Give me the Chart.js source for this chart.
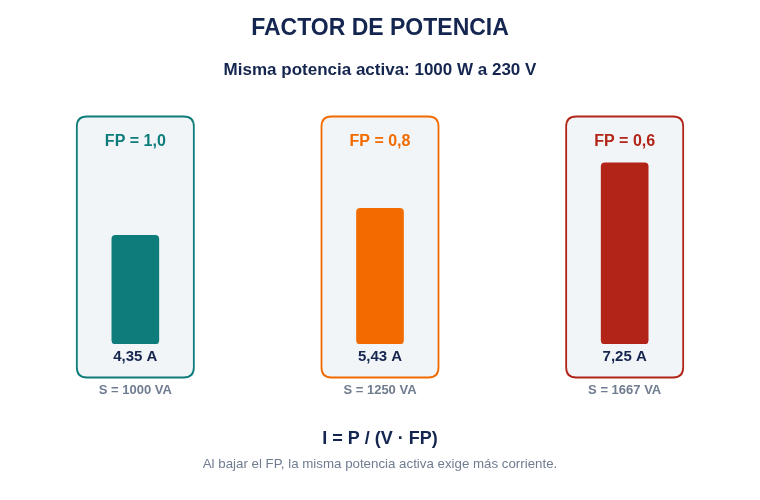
<!DOCTYPE html>
<html>
<head>
<meta charset="utf-8">
<script src="https://cdn.jsdelivr.net/npm/chart.js@4"></script>
<style>
  html,body{margin:0;padding:0;background:#fff;}
  #wrap{width:760px;height:500px;position:relative;}
</style>
</head>
<body>
<div id="wrap"><canvas id="fpChart" width="760" height="500"></canvas></div>
<script>
// datos
const fpLabels = ['FP = 1,0', 'FP = 0,8', 'FP = 0,6'];
const currents = [4.35, 5.43, 7.25];
const currentText = ['4,35 A', '5,43 A', '7,25 A'];
const apparent = ['S = 1000 VA', 'S = 1250 VA', 'S = 1667 VA'];
const colors = ['#0e7c7b', '#f26b00', '#b22418'];

const NAVY = '#14254f', GREY = '#707c90', FONT = '"Liberation Sans", Arial, sans-serif';

function rrect(ctx, x, y, w, h, r){
  ctx.beginPath();
  ctx.moveTo(x+r, y); ctx.lineTo(x+w-r, y); ctx.quadraticCurveTo(x+w, y, x+w, y+r);
  ctx.lineTo(x+w, y+h-r); ctx.quadraticCurveTo(x+w, y+h, x+w-r, y+h);
  ctx.lineTo(x+r, y+h); ctx.quadraticCurveTo(x, y+h, x, y+h-r);
  ctx.lineTo(x, y+r); ctx.quadraticCurveTo(x, y, x+r, y);
  ctx.closePath();
}

const panels = {
  id: 'panels',
  beforeDatasetsDraw(chart){
    const ctx = chart.ctx, x = chart.scales.x;
    ctx.save();
    fpLabels.forEach((lab, i) => {
      const cx = x.getPixelForValue(i);
      rrect(ctx, cx-58.5, 116.5, 117, 261, 10);
      ctx.fillStyle = '#f2f5f7'; ctx.fill();
      ctx.lineWidth = 1.8; ctx.strokeStyle = colors[i]; ctx.stroke();
      ctx.fillStyle = colors[i]; ctx.textAlign = 'center'; ctx.textBaseline = 'middle';
      ctx.font = 'bold 16px ' + FONT;
      ctx.fillText(lab, cx, 142);
    });
    ctx.restore();
  },
  afterDatasetsDraw(chart){
    const ctx = chart.ctx, x = chart.scales.x;
    ctx.save();
    ctx.textAlign = 'center'; ctx.textBaseline = 'middle';
    fpLabels.forEach((lab, i) => {
      const cx = x.getPixelForValue(i);
      ctx.fillStyle = NAVY; ctx.font = 'bold 15px ' + FONT;
      ctx.fillText(currentText[i], cx, 357);
      ctx.fillStyle = GREY; ctx.font = 'bold 13px ' + FONT;
      ctx.fillText(apparent[i], cx, 390);
    });
    ctx.fillStyle = NAVY;
    ctx.font = 'bold 23px ' + FONT; ctx.fillText('FACTOR DE POTENCIA', 380, 29);
    ctx.font = 'bold 17px ' + FONT; ctx.fillText('Misma potencia activa: 1000 W a 230 V', 380, 70);
    ctx.font = 'bold 18px ' + FONT; ctx.fillText('I = P / (V · FP)', 380, 439);
    ctx.fillStyle = GREY; ctx.font = '13.3px ' + FONT;
    ctx.fillText('Al bajar el FP, la misma potencia activa exige más corriente.', 380, 464);
    ctx.restore();
  }
};

new Chart(document.getElementById('fpChart'), {
  type: 'bar',
  data: {
    labels: fpLabels,
    datasets: [{
      data: currents,
      backgroundColor: colors,
      borderRadius: 4,
      borderSkipped: false,
      barThickness: 47
    }]
  },
  options: {
    responsive: false,
    animation: false,
    devicePixelRatio: 1,
    layout: { padding: { top: 119, bottom: 156, left: 13, right: 13 } },
    plugins: { legend: { display: false }, tooltip: { enabled: false } },
    scales: {
      x: { display: false },
      y: { display: false, min: 0, max: 9 }
    }
  },
  plugins: [panels]
});
</script>
</body>
</html>
